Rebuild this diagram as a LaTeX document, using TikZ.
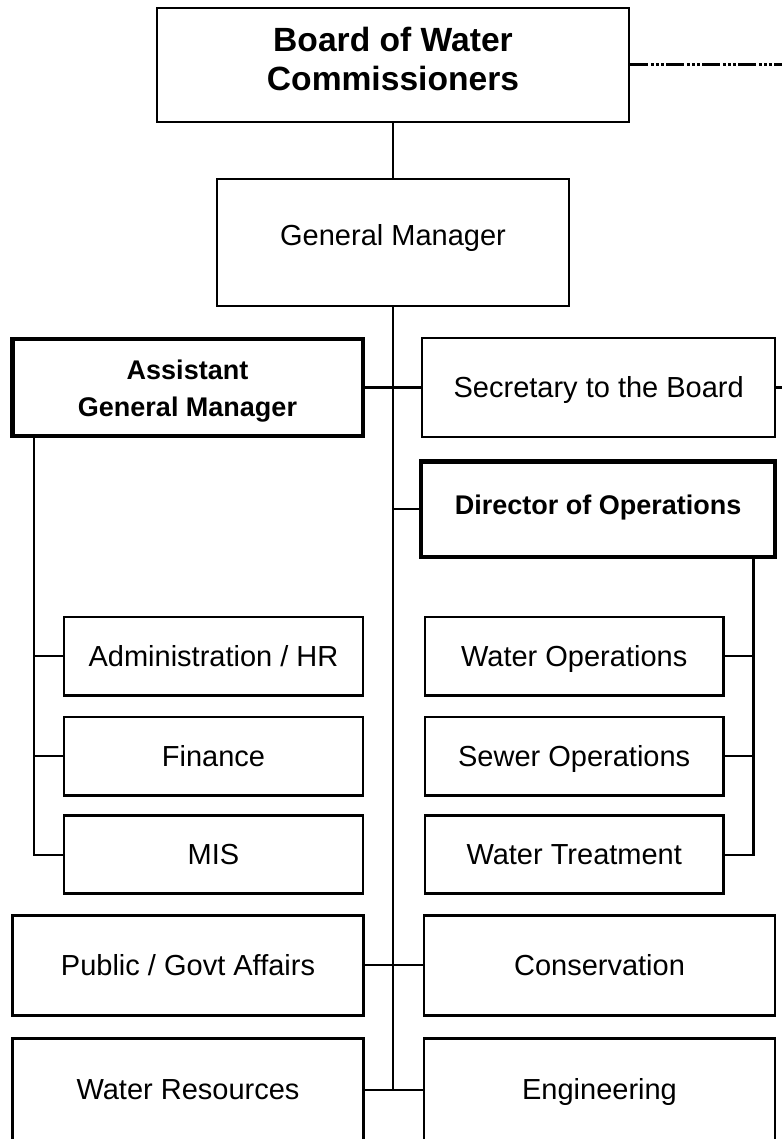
\documentclass[tikz,border=0pt]{standalone}
\usepackage{fontspec}
\setmainfont{Liberation Sans}
\begin{document}
\begin{tikzpicture}[x=1pt,y=-1pt,
  boxbase/.style={draw, line width=2.5pt, inner sep=0pt, anchor=center},
  thickb/.style={line width=4.5pt},
  reg/.style={font=\fontsize{29}{35}\selectfont, text height=20.5pt, text depth=0pt},
  wide/.style={minimum width=351.4pt, minimum height=100pt},
  small/.style={minimum width=298.7pt, minimum height=78.4pt},
  conn/.style={line width=2.2pt},
  dashdots/.style={line width=3pt, dash pattern=on 18pt off 2.5pt on 3pt off 2pt on 3pt off 2pt on 3pt off 2.5pt}]
\useasboundingbox (0,0) rectangle (782,1139);
\coordinate (redge) at (782,0);

\node[boxbase, minimum width=472pt, minimum height=114pt, align=center,
      font=\fontsize{33.6}{39}\selectfont\bfseries] (board) at (393,65)
      {Board of Water\\Commissioners\rule[-13pt]{0pt}{13pt}};
\node[boxbase, reg, text depth=14pt, minimum width=352pt, minimum height=127pt] (gm) at (393,242.5) {General Manager};

\node[boxbase, thickb, minimum width=350.5pt, minimum height=96.75pt, align=center,
      font=\fontsize{27}{36.7}\selectfont\bfseries] (agm) at (187.5,387.6)
      {\rule{0pt}{27pt}Assistant\\General Manager};
\node[boxbase, reg, minimum width=353pt, minimum height=99pt] (sec) at (598.7,387.5) {Secretary to the Board};
\node[boxbase, thickb, font=\fontsize{27}{33}\selectfont\bfseries, text height=19pt, text depth=8pt,
      minimum width=354pt, minimum height=95.5pt] (doo) at (598.2,509.3) {Director of Operations};

\node[boxbase, reg, small] (admin) at (213.5,656.2) {Administration / HR};
\node[boxbase, reg, small] (fin) at (213.5,756.2) {Finance};
\node[boxbase, reg, small, minimum height=78pt] (mis) at (213.5,854.7) {MIS};
\node[boxbase, reg, small] (wops) at (574.2,656.2) {Water Operations};
\node[boxbase, reg, small] (sops) at (574.2,756.2) {Sewer Operations};
\node[boxbase, reg, small, minimum height=78pt] (wt) at (574.2,854.7) {Water Treatment};

\node[boxbase, reg, wide] (pub) at (188,965.3) {Public / Govt Affairs};
\node[boxbase, reg, wide] (cons) at (599.5,965.3) {Conservation};
\node[boxbase, reg, wide, minimum height=102pt] (wr) at (188,1089.6) {Water Resources};
\node[boxbase, reg, wide, minimum height=102pt] (eng) at (599.5,1089.6) {Engineering};

% connectors
\draw[conn] (board.south) -- (gm.north);
\draw[conn] (gm.south) -- (gm.south |- wr.east);
\draw[conn, line width=3pt] (agm.east) -- (gm.south |- agm.east);
\draw[conn] (gm.south |- sec.west) -- (sec.west);
\draw[conn] (gm.south |- doo.west) -- (doo.west);
\draw[conn] (pub.east) -- (cons.west);
\draw[conn] (wr.east) -- (eng.west);

\coordinate (lsp) at ([xshift=24pt]agm.south west);
\draw[conn] (lsp) -- (lsp |- mis.west) -- (mis.west);
\draw[conn] (admin.west) -- (admin.west -| lsp);
\draw[conn] (fin.west) -- (fin.west -| lsp);

\coordinate (rsp) at ([xshift=-24pt]doo.south east);
\draw[conn] (rsp) -- (rsp |- wt.east) -- (wt.east);
\draw[conn] (wops.east) -- (wops.east -| rsp);
\draw[conn] (sops.east) -- (sops.east -| rsp);

\draw[dashdots] (board.east) -- (board.east -| redge);
\draw[dashdots] (sec.east) -- (sec.east -| redge);
\end{tikzpicture}
\end{document}
